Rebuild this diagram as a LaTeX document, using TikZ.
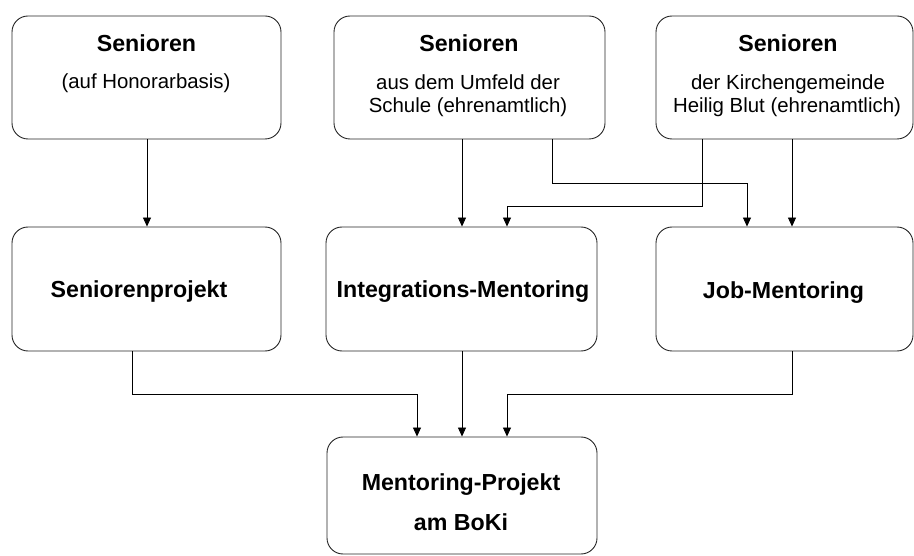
\documentclass[tikz,border=0pt]{standalone}
\usepackage{fontspec}
\setmainfont{Liberation Sans}
\usetikzlibrary{arrows.meta,calc}
\tikzset{
  box/.style={draw=black!85, line width=0.9pt, rounded corners=16pt, rectangle, inner sep=0pt},
  ttl/.style={anchor=base, inner sep=0pt, font=\fontsize{23.2}{28}\selectfont\bfseries},
  sub/.style={anchor=base, inner sep=0pt, font=\fontsize{20.4}{24}\selectfont},
  conn/.style={draw=black, line width=0.8pt, -{Triangle[length=9pt,width=8pt]}},
}
\begin{document}
\begin{tikzpicture}[x=1pt,y=-1pt]
\useasboundingbox (0,0) rectangle (914,556);
% boxes
\node[box, minimum width=269pt, minimum height=123pt] (A) at (146.5,77.5) {};
\node[box, minimum width=271pt, minimum height=123pt] (B) at (469.5,77.5) {};
\node[box, minimum width=257pt, minimum height=123pt] (C) at (784.5,77.5) {};
\node[box, minimum width=269pt, minimum height=124pt] (D) at (146.5,289) {};
\node[box, minimum width=271pt, minimum height=124pt] (E) at (461.5,289) {};
\node[box, minimum width=257pt, minimum height=124pt] (F) at (784.5,289) {};
\node[box, minimum width=270pt, minimum height=117pt] (G) at (462,495.5) {};
% texts
\node[ttl] (At) at (146.5,52) {Senioren};
\node[sub] (As) at (146,89) {(auf Honorarbasis)};
\node[ttl] (Bt) at (469,52) {Senioren};
\node[sub] (Bs1) at (468,90) {aus dem Umfeld der};
\node[sub] (Bs2) at (468,113) {Schule (ehrenamtlich)};
\node[ttl] (Ct) at (788,52) {Senioren};
\node[sub] (Cs1) at (788,90) {der Kirchengemeinde};
\node[sub] (Cs2) at (787,113) {Heilig Blut (ehrenamtlich)};
\node[ttl] (Dt) at (139,298) {Seniorenprojekt};
\node[ttl] (Et) at (463,298) {Integrations-Mentoring};
\node[ttl] (Ft) at (783.5,299) {Job-Mentoring};
\node[ttl] (Gt1) at (461,490) {Mentoring-Projekt};
\node[ttl] (Gt2) at (461,530) {am BoKi};
% helper coordinates
\coordinate (x132) at (132,0);
\coordinate (x147) at (147,0);
\coordinate (x417) at (417,0);
\coordinate (x462) at (462,0);
\coordinate (x507) at (507,0);
\coordinate (x552) at (552,0);
\coordinate (x702) at (702,0);
\coordinate (x747) at (747,0);
\coordinate (x792) at (792,0);
\coordinate (y183) at (0,183);
\coordinate (y206) at (0,206);
\coordinate (y394) at (0,394);
% connectors
\draw[conn] (A.south -| x147) -- (D.north -| x147);
\draw[conn] (B.south -| x462) -- (E.north -| x462);
\draw[conn] (B.south -| x552) -- (y183 -| x552) -- (y183 -| x747) -- (F.north -| x747);
\draw[conn] (C.south -| x702) -- (y206 -| x702) -- (y206 -| x507) -- (E.north -| x507);
\draw[conn] (C.south -| x792) -- (F.north -| x792);
\draw[conn] (D.south -| x132) -- (y394 -| x132) -- (y394 -| x417) -- (G.north -| x417);
\draw[conn] (E.south -| x462) -- (G.north -| x462);
\draw[conn] (F.south -| x792) -- (y394 -| x792) -- (y394 -| x507) -- (G.north -| x507);
\end{tikzpicture}
\end{document}
